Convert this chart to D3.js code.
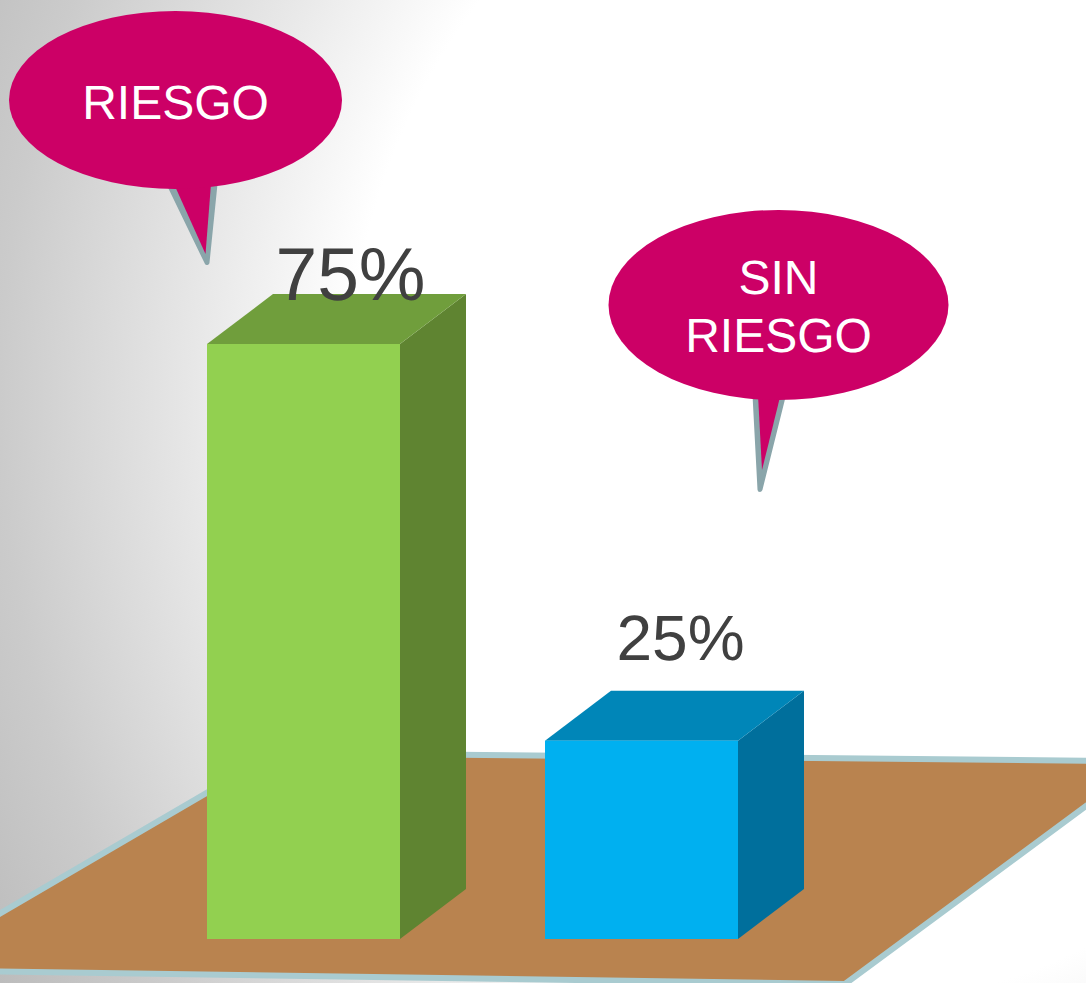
<!DOCTYPE html>
<html><head><meta charset="utf-8">
<script src="https://cdn.jsdelivr.net/npm/d3@7"></script>
<style>html,body{margin:0;padding:0;background:#fff;overflow:hidden}svg{display:block}text{text-rendering:geometricPrecision}</style>
</head><body><svg id="c" width="1086" height="983"></svg>
<script>
const categories = ["RIESGO", "SIN RIESGO"];
const values = [75, 25];
const valueLabels = ["75%", "25%"];
const frontColors = ["#92d050", "#00b0f0"];
const topColors = ["#709e3c", "#0086b8"];
const sideColors = ["#5f8431", "#006f9c"];

const svg = d3.select("#c");
const W = 1086, H = 983, font = "'Liberation Sans', Arial, sans-serif";

const defs = svg.append("defs");
const g = defs.append("radialGradient").attr("id", "bg")
  .attr("gradientUnits", "userSpaceOnUse").attr("cx", 0).attr("cy", 0).attr("r", 1.2)
  .attr("gradientTransform", "translate(870,400) scale(870,1000)");
[[0, "#ffffff"], [0.6, "#ffffff"], [0.78, "#e7e7e7"], [1, "#cbcbcb"], [1.2, "#b8b8b8"]]
  .forEach(([o, c]) => g.append("stop").attr("offset", o / 1.2).attr("stop-color", c));
svg.append("rect").attr("width", W).attr("height", H).attr("fill", "url(#bg)");

// floor (runs off the page on three sides)
const floor = [[275, 753], [1120, 761], [1120, 781], [845, 984], [-30, 971], [-30, 931]];
svg.append("path").attr("d", d3.line()(floor) + "Z").attr("fill", "#b9834f")
  .attr("stroke", "#a9cbd0").attr("stroke-width", 6).attr("stroke-linejoin", "miter");

// bars
const x = d3.scaleBand().domain(categories).range([207, 738]).paddingInner(145 / 338).paddingOuter(0);
const y = d3.scaleLinear().domain([0, 75]).range([939, 344]);
const dx = 66, dy = 50;
const bars = svg.selectAll("g.bar").data(categories).join("g").attr("class", "bar");
bars.each(function (c, i) {
  const s = d3.select(this), l = x(c), r = l + x.bandwidth(), t = y(values[i]), b = y(0);
  s.append("path").attr("fill", sideColors[i])
    .attr("d", d3.line()([[r, t], [r + dx, t - dy], [r + dx, b - dy], [r, b]]) + "Z");
  s.append("path").attr("fill", topColors[i])
    .attr("d", d3.line()([[l, t], [l + dx, t - dy], [r + dx, t - dy], [r, t]]) + "Z");
  s.append("rect").attr("x", l).attr("y", t).attr("width", x.bandwidth()).attr("height", b - t).attr("fill", frontColors[i]);
});

// value labels
const labelDx = [143.5, 135.5], labelBase = [300, 660], labelSize = [75, 64];
categories.forEach((c, i) => {
  svg.append("text").text(valueLabels[i]).attr("x", x(c) + labelDx[i]).attr("y", labelBase[i])
    .attr("text-anchor", "middle").attr("font-family", font).attr("font-size", labelSize[i]).attr("fill", "#404040");
});

// callouts
const callouts = [
  {cx: 175.5, cy: 100, rx: 166.5, ry: 89, grey: [[169, 184], [207, 262.5], [215, 184]], pink: [[174, 184], [205.5, 254], [211, 184]], lines: ["RIESGO"], base: [118.5]},
  {cx: 778.5, cy: 305, rx: 170, ry: 95, grey: [[755, 395], [760, 489.5], [783.5, 395]], pink: [[758, 395], [762, 470], [780.5, 395]], lines: ["SIN", "RIESGO"], base: [294, 351.5]}
];
callouts.forEach(d => {
  svg.append("path").attr("d", d3.line()(d.grey) + "Z").attr("fill", "#8aa5aa")
    .attr("stroke", "#8aa5aa").attr("stroke-width", 5).attr("stroke-linejoin", "round");
  svg.append("path").attr("d", d3.line()(d.pink) + "Z").attr("fill", "#cc0066");
  svg.append("ellipse").attr("cx", d.cx).attr("cy", d.cy).attr("rx", d.rx).attr("ry", d.ry).attr("fill", "#cc0066");
  d.lines.forEach((t, i) => svg.append("text").text(t).attr("x", d.cx).attr("y", d.base[i])
    .attr("text-anchor", "middle").attr("font-family", font).attr("font-size", 48).attr("fill", "#ffffff"));
});
</script></body></html>
